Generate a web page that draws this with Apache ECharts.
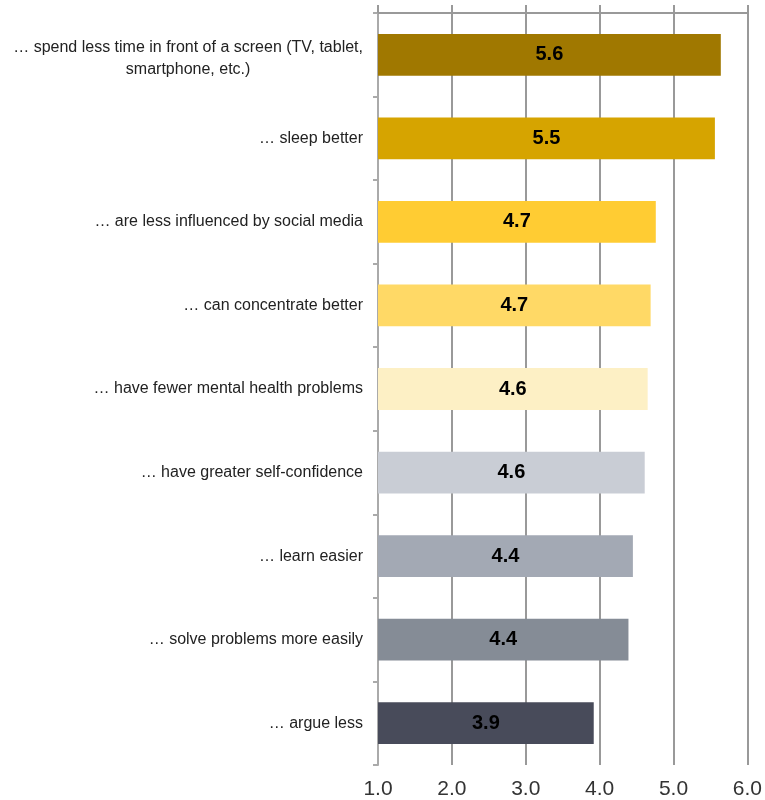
<!DOCTYPE html>
<html>
<head>
<meta charset="utf-8">
<script src="https://cdn.jsdelivr.net/npm/echarts@6/dist/echarts.min.js"></script>
<style>html,body{margin:0;padding:0;background:#fff}#c{width:765px;height:800px}</style>
</head>
<body>
<div id="c"></div>
<script>
var categories = [
  "… spend less time in front of a screen (TV, tablet,\nsmartphone, etc.)",
  "… sleep better",
  "… are less influenced by social media",
  "… can concentrate better",
  "… have fewer mental health problems",
  "… have greater self-confidence",
  "… learn easier",
  "… solve problems more easily",
  "… argue less"
];
var values = [5.64, 5.56, 4.76, 4.69, 4.65, 4.61, 4.45, 4.39, 3.92];
var valueLabels = ["5.6", "5.5", "4.7", "4.7", "4.6", "4.6", "4.4", "4.4", "3.9"];
var barColors = ["#A07800", "#D6A400", "#FFCC33", "#FFD966", "#FDF0C5", "#C9CDD5", "#A3A9B4", "#858C96", "#484B5A"];
var xTicks = [1, 2, 3, 4, 5, 6];

var chart = echarts.init(document.getElementById('c'), null, {renderer: 'canvas'});
var FONT = 'Liberation Sans, Arial, sans-serif';
chart.setOption({
  animation: false,
  grid: {left: 378, right: 17, top: 13, bottom: 35, containLabel: false},
  xAxis: [{
    type: 'value', position: 'top', min: xTicks[0], max: xTicks[xTicks.length - 1], interval: 1,
    axisLine: {show: true, lineStyle: {color: '#999', width: 2}},
    axisTick: {show: true, length: 8, inside: false, lineStyle: {color: '#999', width: 2}},
    axisLabel: {show: false},
    splitLine: {show: true, lineStyle: {color: '#999', width: 2}}
  }, {
    type: 'value', position: 'bottom', min: xTicks[0], max: xTicks[xTicks.length - 1], interval: 1,
    axisLine: {show: false}, axisTick: {show: false}, splitLine: {show: false},
    axisLabel: {show: true, margin: 14, fontSize: 21, color: '#333', fontFamily: FONT,
      formatter: function (v) { return v.toFixed(1); }}
  }],
  yAxis: {
    type: 'category', inverse: true, data: categories,
    axisLine: {show: true, lineStyle: {color: '#aaa', width: 2}},
    axisTick: {show: true, length: 5, alignWithLabel: false, lineStyle: {color: '#aaa', width: 2}},
    splitLine: {show: false},
    axisLabel: {
      margin: 15, fontSize: 16, color: '#222', fontFamily: FONT, lineHeight: 22,
      formatter: function (v) {
        var parts = v.split('\n');
        if (parts.length > 1) {
          return '{s| }\n' + parts.map(function (p) { return '{c|' + p + '}'; }).join('\n');
        }
        return v;
      },
      rich: {
        s: {fontSize: 1, lineHeight: 8},
        c: {align: 'center', fontSize: 16, color: '#222', fontFamily: FONT, lineHeight: 22}
      }
    }
  },
  series: [{
    type: 'bar', xAxisIndex: 0, barCategoryGap: '50%',
    data: values.map(function (v, i) { return {value: v, itemStyle: {color: barColors[i]}}; }),
    label: {
      show: true, position: 'inside', color: '#000', fontWeight: 'bold', fontSize: 20, fontFamily: FONT,
      formatter: function (p) { return valueLabels[p.dataIndex]; }
    }
  }]
});
</script>
</body>
</html>
